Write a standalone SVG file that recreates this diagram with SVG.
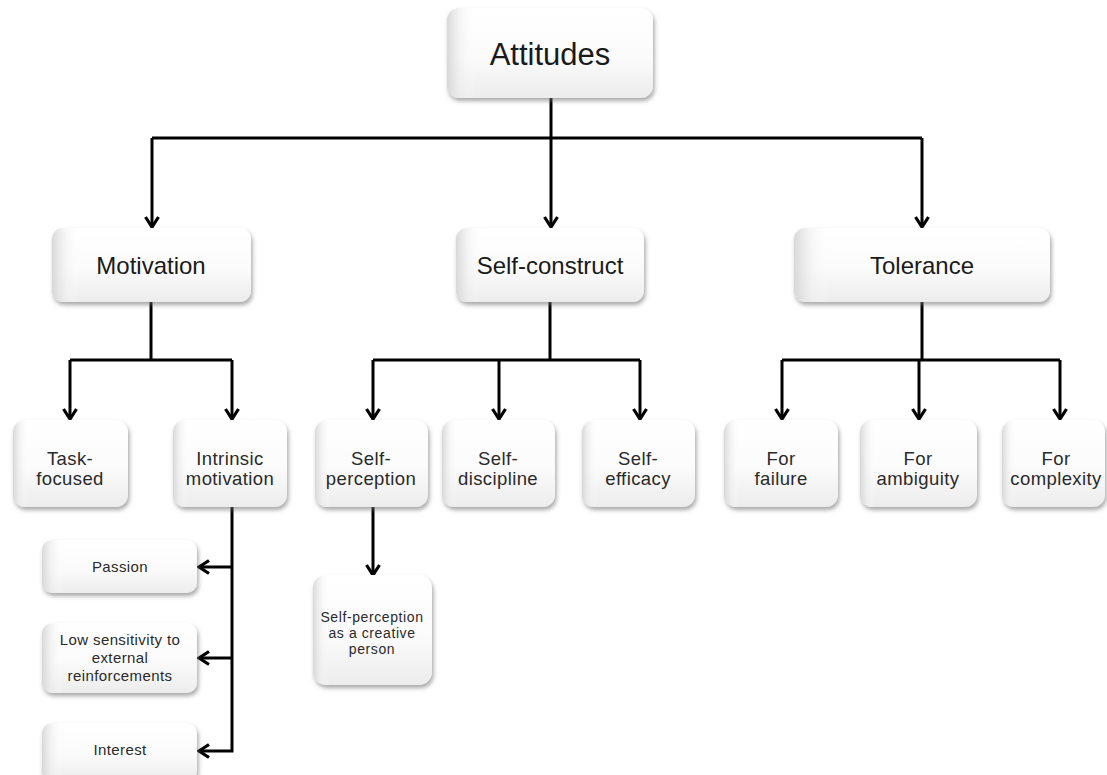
<svg xmlns="http://www.w3.org/2000/svg" width="1107" height="775" viewBox="0 0 1107 775">
<style>
  .box { fill: url(#vg); filter: url(#sh); }
  .gloss { fill: url(#hg); }
  .t { font-family: "Liberation Sans", Arial, sans-serif; fill: #1a1a1a; text-anchor: middle; }
  .t1 { font-size: 31px; }
  .t2 { font-size: 24px; }
  .t3 { font-size: 18.5px; fill: #2a2a2a; letter-spacing: 0.4px; }
  .t4 { font-size: 14px; fill: #2a2a2a; letter-spacing: 0.6px; }
  .t5 { font-size: 15px; fill: #2a2a2a; letter-spacing: 0.4px; }
  .c { fill: none; stroke: #000; stroke-width: 3; }
  .a { marker-end: url(#arr); }
</style>
<defs>
  <linearGradient id="vg" x1="0" y1="0" x2="0" y2="1">
    <stop offset="0" stop-color="#ffffff"/>
    <stop offset="0.55" stop-color="#fbfbfb"/>
    <stop offset="1" stop-color="#ececec"/>
  </linearGradient>
  <linearGradient id="hg" x1="0" y1="0" x2="1" y2="0">
    <stop offset="0" stop-color="#d4d4d4" stop-opacity="0.9"/>
    <stop offset="0.07" stop-color="#eeeeee" stop-opacity="0.5"/>
    <stop offset="0.14" stop-color="#ffffff" stop-opacity="0"/>
    <stop offset="1" stop-color="#ffffff" stop-opacity="0"/>
  </linearGradient>
  <filter id="sh" x="-10%" y="-10%" width="125%" height="130%">
    <feDropShadow dx="1.5" dy="3" stdDeviation="2.2" flood-color="#6e6e6e" flood-opacity="0.6"/>
  </filter>
  <marker id="arr" viewBox="0 0 16 16" refX="13" refY="8" markerWidth="16" markerHeight="16" orient="auto" markerUnits="userSpaceOnUse">
    <path d="M3,1.5 L13,8 L3,14.5" fill="none" stroke="#000" stroke-width="3.2"/>
  </marker>
</defs>
<rect width="1107" height="775" fill="#ffffff"/>

<g id="connectors">
  <path class="c" d="M551,98 V138"/>
  <path class="c" d="M152,138 H922"/>
  <path class="c a" d="M152,138 V227"/>
  <path class="c a" d="M551,138 V227"/>
  <path class="c a" d="M922,138 V227"/>

  <path class="c" d="M151,302 V360"/>
  <path class="c" d="M70,360 H232"/>
  <path class="c a" d="M70,360 V419"/>
  <path class="c a" d="M232,360 V419"/>

  <path class="c" d="M550,302 V360"/>
  <path class="c" d="M373,360 H640"/>
  <path class="c a" d="M373,360 V419"/>
  <path class="c a" d="M499,360 V419"/>
  <path class="c a" d="M640,360 V419"/>

  <path class="c" d="M922,302 V360"/>
  <path class="c" d="M782,360 H1060"/>
  <path class="c a" d="M782,360 V419"/>
  <path class="c a" d="M919,360 V419"/>
  <path class="c a" d="M1060,360 V419"/>

  <path class="c a" d="M373,507 V575"/>

  <path class="c a" d="M232,507 V751 H199"/>
  <path class="c a" d="M232,567 H199"/>
  <path class="c a" d="M232,658 H199"/>
</g>

<g id="attitudes">
  <rect class="box" x="447" y="8" width="206" height="90" rx="12"/>
  <rect class="gloss" x="447" y="8" width="206" height="90" rx="12"/>
  <text class="t t1" x="550" y="65">Attitudes</text>
</g>

<g id="motivation">
  <rect class="box" x="52" y="228" width="199" height="74" rx="11"/>
  <rect class="gloss" x="52" y="228" width="199" height="74" rx="11"/>
  <text class="t t2" x="151" y="274">Motivation</text>
</g>

<g id="self-construct">
  <rect class="box" x="456" y="228" width="188" height="74" rx="11"/>
  <rect class="gloss" x="456" y="228" width="188" height="74" rx="11"/>
  <text class="t t2" x="550" y="274">Self-construct</text>
</g>

<g id="tolerance">
  <rect class="box" x="794" y="228" width="256" height="74" rx="11"/>
  <rect class="gloss" x="794" y="228" width="256" height="74" rx="11"/>
  <text class="t t2" x="922" y="274">Tolerance</text>
</g>

<g id="task-focused">
  <rect class="box" x="13" y="420" width="115" height="87" rx="12"/>
  <rect class="gloss" x="13" y="420" width="115" height="87" rx="12"/>
  <text class="t t3" x="70" y="465">Task-</text>
  <text class="t t3" x="70" y="485">focused</text>
</g>

<g id="intrinsic-motivation">
  <rect class="box" x="173" y="420" width="114" height="87" rx="12"/>
  <rect class="gloss" x="173" y="420" width="114" height="87" rx="12"/>
  <text class="t t3" x="230" y="465">Intrinsic</text>
  <text class="t t3" x="230" y="485">motivation</text>
</g>

<g id="self-perception">
  <rect class="box" x="315" y="420" width="113" height="87" rx="12"/>
  <rect class="gloss" x="315" y="420" width="113" height="87" rx="12"/>
  <text class="t t3" x="371" y="465">Self-</text>
  <text class="t t3" x="371" y="485">perception</text>
</g>

<g id="self-discipline">
  <rect class="box" x="442" y="420" width="113" height="87" rx="12"/>
  <rect class="gloss" x="442" y="420" width="113" height="87" rx="12"/>
  <text class="t t3" x="498" y="465">Self-</text>
  <text class="t t3" x="498" y="485">discipline</text>
</g>

<g id="self-efficacy">
  <rect class="box" x="582" y="420" width="113" height="87" rx="12"/>
  <rect class="gloss" x="582" y="420" width="113" height="87" rx="12"/>
  <text class="t t3" x="638" y="465">Self-</text>
  <text class="t t3" x="638" y="485">efficacy</text>
</g>

<g id="for-failure">
  <rect class="box" x="724" y="420" width="114" height="87" rx="12"/>
  <rect class="gloss" x="724" y="420" width="114" height="87" rx="12"/>
  <text class="t t3" x="781" y="465">For</text>
  <text class="t t3" x="781" y="485">failure</text>
</g>

<g id="for-ambiguity">
  <rect class="box" x="860" y="420" width="117" height="87" rx="12"/>
  <rect class="gloss" x="860" y="420" width="117" height="87" rx="12"/>
  <text class="t t3" x="918" y="465">For</text>
  <text class="t t3" x="918" y="485">ambiguity</text>
</g>

<g id="for-complexity">
  <rect class="box" x="1002" y="420" width="103" height="87" rx="12"/>
  <rect class="gloss" x="1002" y="420" width="103" height="87" rx="12"/>
  <text class="t t3" x="1056" y="465">For</text>
  <text class="t t3" x="1056" y="485">complexity</text>
</g>

<g id="self-perception-creative">
  <rect class="box" x="313" y="575" width="119" height="110" rx="13"/>
  <rect class="gloss" x="313" y="575" width="119" height="110" rx="13"/>
  <text class="t t4" x="372" y="622">Self-perception</text>
  <text class="t t4" x="372" y="638">as a creative</text>
  <text class="t t4" x="372" y="654">person</text>
</g>

<g id="passion">
  <rect class="box" x="42" y="540" width="155" height="53" rx="10"/>
  <rect class="gloss" x="42" y="540" width="155" height="53" rx="10"/>
  <text class="t t5" x="120" y="572">Passion</text>
</g>

<g id="low-sensitivity">
  <rect class="box" x="42" y="623" width="155" height="70" rx="10"/>
  <rect class="gloss" x="42" y="623" width="155" height="70" rx="10"/>
  <text class="t t5" x="120" y="645">Low sensitivity to</text>
  <text class="t t5" x="120" y="663">external</text>
  <text class="t t5" x="120" y="681">reinforcements</text>
</g>

<g id="interest">
  <rect class="box" x="42" y="723" width="155" height="58" rx="10"/>
  <rect class="gloss" x="42" y="723" width="155" height="58" rx="10"/>
  <text class="t t5" x="120" y="755">Interest</text>
</g>
</svg>
